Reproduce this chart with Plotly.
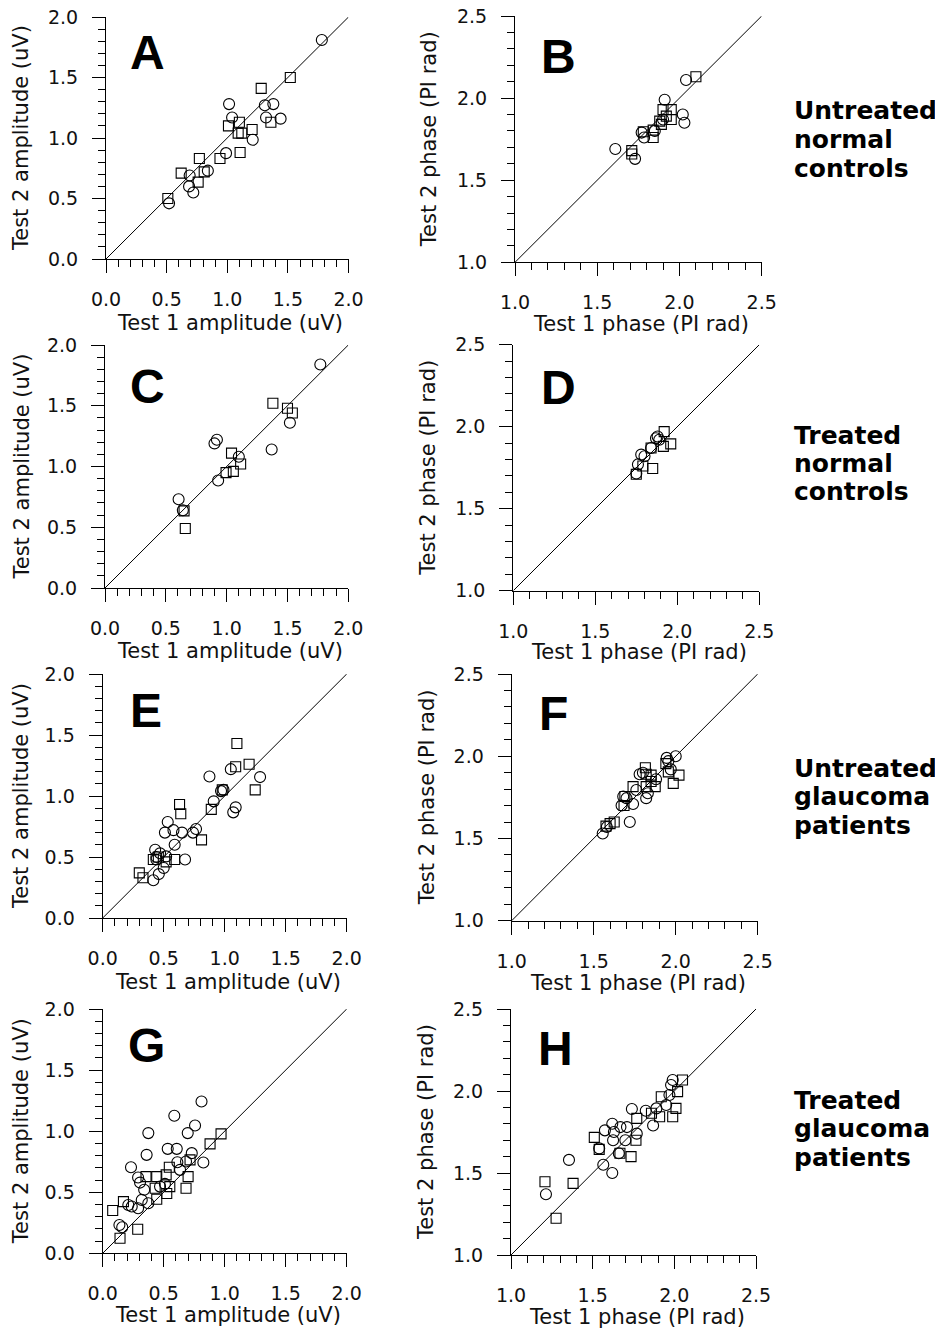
import plotly.graph_objects as go

PAGE_W, PAGE_H = 943, 1332
BODY_MARGIN = 8          # default page margin around the plot div
W, H = PAGE_W - BODY_MARGIN, PAGE_H - BODY_MARGIN
AMP_RANGE = [0.0, 2.0]
PHASE_RANGE = [1.0, 2.5]

# ---------------- data ----------------
A_circ_x = [1.78, 1.015, 1.31, 1.38, 1.04, 1.32, 1.44, 1.21, 0.99, 0.84, 0.69, 0.685, 0.72, 0.52]
A_circ_y = [1.81, 1.28, 1.27, 1.28, 1.17, 1.17, 1.16, 0.985, 0.875, 0.73, 0.69, 0.60, 0.55, 0.46]
A_sq_x = [1.52, 1.28, 1.01, 1.10, 1.09, 1.12, 1.205, 1.36, 1.106, 0.94, 0.77, 0.62, 0.81, 0.76, 0.51]
A_sq_y = [1.50, 1.41, 1.10, 1.13, 1.04, 1.04, 1.07, 1.13, 0.88, 0.83, 0.83, 0.71, 0.72, 0.635, 0.50]

B_circ_x = [1.61, 1.73, 2.04, 1.91, 2.02, 2.03, 1.785, 1.77, 1.90, 1.85]
B_circ_y = [1.69, 1.63, 2.11, 1.99, 1.90, 1.85, 1.76, 1.79, 1.87, 1.80]
B_sq_x = [2.10, 1.71, 1.71, 1.78, 1.84, 1.84, 1.88, 1.90, 1.95, 1.92, 1.95, 1.89]
B_sq_y = [2.13, 1.68, 1.66, 1.795, 1.805, 1.76, 1.86, 1.93, 1.93, 1.89, 1.87, 1.84]

C_circ_x = [1.77, 0.92, 0.90, 1.37, 1.52, 1.10, 0.93, 0.605, 0.64]
C_circ_y = [1.84, 1.22, 1.19, 1.14, 1.36, 1.08, 0.885, 0.73, 0.64]
C_sq_x = [1.38, 1.50, 1.54, 1.04, 1.115, 0.995, 1.055, 0.65, 0.66]
C_sq_y = [1.52, 1.48, 1.44, 1.11, 1.02, 0.95, 0.96, 0.635, 0.49]

D_circ_x = [1.75, 1.76, 1.78, 1.80, 1.84, 1.88, 1.89, 1.87]
D_circ_y = [1.715, 1.77, 1.83, 1.82, 1.87, 1.94, 1.92, 1.93]
D_sq_x = [1.85, 1.92, 1.96, 1.915, 1.84, 1.75, 1.79]
D_sq_y = [1.745, 1.97, 1.895, 1.88, 1.87, 1.71, 1.76]

E_circ_x = [0.875, 1.05, 1.29, 0.97, 0.99, 0.91, 1.09, 1.07, 0.533, 0.51, 0.58, 0.65, 0.74, 0.765,
            0.59, 0.43, 0.47, 0.52, 0.675, 0.44, 0.50, 0.46, 0.415, 0.44]
E_circ_y = [1.16, 1.22, 1.155, 1.04, 1.05, 0.956, 0.907, 0.866, 0.787, 0.70, 0.72, 0.70, 0.70, 0.73,
            0.60, 0.56, 0.53, 0.505, 0.48, 0.48, 0.41, 0.36, 0.31, 0.50]
E_sq_x = [1.10, 1.09, 1.20, 1.25, 0.98, 0.89, 0.63, 0.64, 0.81, 0.59, 0.415, 0.456, 0.52, 0.30, 0.33]
E_sq_y = [1.43, 1.24, 1.26, 1.05, 1.05, 0.89, 0.93, 0.855, 0.64, 0.48, 0.48, 0.50, 0.46, 0.37, 0.33]

F_circ_x = [2.00, 1.945, 1.955, 1.97, 1.78, 1.80, 1.88, 1.82, 1.83, 1.76, 1.68, 1.67, 1.74, 1.72,
            1.555, 1.58, 1.70]
F_circ_y = [2.00, 1.99, 1.97, 1.92, 1.89, 1.90, 1.86, 1.745, 1.775, 1.795, 1.755, 1.70, 1.71, 1.60,
            1.53, 1.57, 1.745]
F_sq_x = [2.02, 1.985, 1.955, 1.94, 1.815, 1.82, 1.85, 1.875, 1.82, 1.74, 1.69, 1.685, 1.625, 1.60,
          1.575, 1.85]
F_sq_y = [1.885, 1.835, 1.905, 1.955, 1.93, 1.89, 1.885, 1.815, 1.815, 1.815, 1.755, 1.70, 1.60, 1.59,
          1.575, 1.846]

G_circ_x = [0.81, 0.587, 0.757, 0.697, 0.374, 0.36, 0.533, 0.607, 0.73, 0.825, 0.232, 0.612, 0.634,
            0.683, 0.29, 0.306, 0.34, 0.47, 0.51, 0.21, 0.238, 0.29, 0.32, 0.374, 0.137, 0.16]
G_circ_y = [1.243, 1.126, 1.046, 0.984, 0.984, 0.806, 0.855, 0.855, 0.82, 0.743, 0.705, 0.746, 0.683,
            0.751, 0.62, 0.579, 0.52, 0.546, 0.568, 0.396, 0.383, 0.369, 0.437, 0.41, 0.232, 0.213]
G_sq_x = [0.97, 0.88, 0.716, 0.546, 0.355, 0.443, 0.52, 0.70, 0.683, 0.43, 0.525, 0.443, 0.17, 0.082,
          0.287, 0.142, 0.55]
G_sq_y = [0.978, 0.896, 0.765, 0.705, 0.628, 0.628, 0.642, 0.628, 0.533, 0.533, 0.49, 0.443, 0.423,
          0.35, 0.197, 0.123, 0.546]

H_circ_x = [1.99, 1.98, 1.97, 1.95, 1.74, 1.825, 1.87, 1.89, 1.62, 1.67, 1.71, 1.575, 1.63, 1.70,
            1.625, 1.54, 1.66, 1.77, 1.355, 1.565, 1.62, 1.214]
H_circ_y = [2.067, 2.037, 1.976, 1.915, 1.89, 1.88, 1.79, 1.894, 1.80, 1.78, 1.78, 1.76, 1.75, 1.70,
            1.70, 1.65, 1.62, 1.74, 1.58, 1.55, 1.50, 1.37]
H_sq_x = [2.05, 2.02, 2.01, 1.99, 1.92, 1.91, 1.77, 1.765, 1.735, 1.51, 1.54, 1.38, 1.208, 1.276,
          1.86, 1.667]
H_sq_y = [2.067, 1.996, 1.894, 1.843, 1.965, 1.843, 1.833, 1.70, 1.60, 1.717, 1.644, 1.437, 1.447,
          1.224, 1.864, 1.62]

AMP_X_TITLE = "Test 1 amplitude (uV)"
AMP_Y_TITLE = "Test 2 amplitude (uV)"
PH_X_TITLE = "Test 1 phase (PI rad)"
PH_Y_TITLE = "Test 2 phase (PI rad)"

ROW_LABELS = [["Untreated", "normal", "controls"],
              ["Treated", "normal", "controls"],
              ["Untreated", "glaucoma", "patients"],
              ["Treated", "glaucoma", "patients"]]

# ---------------- layout geometry (page pixels) ----------------
panels = [
    dict(letter="A", kind="amp", cx=A_circ_x, cy=A_circ_y, sx=A_sq_x, sy=A_sq_y,
         px=(106, 348.5), py=(259, 17), lab=(147, 52), tt=64, yt=21),
    dict(letter="B", kind="ph", cx=B_circ_x, cy=B_circ_y, sx=B_sq_x, sy=B_sq_y,
         px=(515, 761.7), py=(262.3, 16), lab=(558, 56), tt=62, yt=429),
    dict(letter="C", kind="amp", cx=C_circ_x, cy=C_circ_y, sx=C_sq_x, sy=C_sq_y,
         px=(105, 348.3), py=(588, 345), lab=(147, 386), tt=63, yt=21),
    dict(letter="D", kind="ph", cx=D_circ_x, cy=D_circ_y, sx=D_sq_x, sy=D_sq_y,
         px=(513.3, 759.3), py=(590.7, 344.7), lab=(558, 388), tt=61, yt=428),
    dict(letter="E", kind="amp", cx=E_circ_x, cy=E_circ_y, sx=E_sq_x, sy=E_sq_y,
         px=(102.7, 346.7), py=(918, 674), lab=(146, 710), tt=64, yt=21),
    dict(letter="F", kind="ph", cx=F_circ_x, cy=F_circ_y, sx=F_sq_x, sy=F_sq_y,
         px=(511.7, 757.7), py=(920.7, 674), lab=(553, 713), tt=62, yt=427),
    dict(letter="G", kind="amp", cx=G_circ_x, cy=G_circ_y, sx=G_sq_x, sy=G_sq_y,
         px=(102.7, 346.7), py=(1253.3, 1009), lab=(146, 1045), tt=62, yt=21),
    dict(letter="H", kind="ph", cx=H_circ_x, cy=H_circ_y, sx=H_sq_x, sy=H_sq_y,
         px=(511, 756), py=(1255, 1009), lab=(555, 1048), tt=62, yt=426),
]

row_label_baselines = [120, 444, 777, 1109]
ROW_LABEL_X = 792
ROW_LABEL_SIZE = 25
ROW_LABEL_PITCH = 28.5

def fx(p):
    return (p - BODY_MARGIN) / W

def fy(p):
    return 1 - (p - BODY_MARGIN) / H

TICK_FONT = dict(family="DejaVu Sans", size=19, color="#111")
TITLE_FONT = dict(family="DejaVu Sans", size=21, color="#111")

fig = go.Figure()
annotations = []
layout_axes = {}

for i, p in enumerate(panels, start=1):
    xa = "x" if i == 1 else f"x{i}"
    ya = "y" if i == 1 else f"y{i}"
    rng = AMP_RANGE if p["kind"] == "amp" else PHASE_RANGE

    fig.add_trace(go.Scatter(x=rng, y=rng, mode="lines", xaxis=xa, yaxis=ya,
                             line=dict(color="black", width=1), hoverinfo="skip",
                             showlegend=False))
    fig.add_trace(go.Scatter(x=p["sx"], y=p["sy"], mode="markers", xaxis=xa, yaxis=ya,
                             marker=dict(symbol="square-open", size=10,
                                         color="black", line=dict(width=1.1, color="black")),
                             showlegend=False, cliponaxis=False))
    fig.add_trace(go.Scatter(x=p["cx"], y=p["cy"], mode="markers", xaxis=xa, yaxis=ya,
                             marker=dict(symbol="circle-open", size=11,
                                         color="black", line=dict(width=1.1, color="black")),
                             showlegend=False, cliponaxis=False))

    common = dict(range=rng, showline=True, linecolor="black", linewidth=1.2,
                  ticks="outside", ticklen=13, tickwidth=1.2, tickcolor="black",
                  showgrid=False, zeroline=False, tickformat=".1f", automargin=False,
                  ticklabeloverflow="allow",
                  tick0=rng[0], dtick=0.5, tickfont=TICK_FONT, fixedrange=True,
                  minor=dict(ticks="outside", ticklen=7, tickwidth=1.1, tickcolor="black",
                             tick0=rng[0], dtick=0.1, showgrid=False))
    xkey = "xaxis" if i == 1 else f"xaxis{i}"
    ykey = "yaxis" if i == 1 else f"yaxis{i}"
    layout_axes[xkey] = dict(common, domain=[fx(p["px"][0]), fx(p["px"][1])], anchor=ya,
                             ticklabelstandoff=10)
    layout_axes[ykey] = dict(common, domain=[fy(p["py"][0]), fy(p["py"][1])], anchor=xa,
                             ticklabelstandoff=10)

    # axis titles
    xt = AMP_X_TITLE if p["kind"] == "amp" else PH_X_TITLE
    yt = AMP_Y_TITLE if p["kind"] == "amp" else PH_Y_TITLE
    xmid = (p["px"][0] + p["px"][1]) / 2
    ymid = (p["py"][0] + p["py"][1]) / 2
    annotations.append(dict(text=xt, x=fx(xmid + 3), y=fy(p["py"][0] + p["tt"]),
                            xref="paper", yref="paper", xanchor="center", yanchor="middle",
                            showarrow=False, font=TITLE_FONT))
    annotations.append(dict(text=yt, x=fx(p["yt"]), y=fy(ymid),
                            xref="paper", yref="paper", xanchor="center", yanchor="middle",
                            textangle=-90, showarrow=False, font=TITLE_FONT))
    # panel letter
    annotations.append(dict(text=f"<b>{p['letter']}</b>", x=fx(p["lab"][0]), y=fy(p["lab"][1]),
                            xref="paper", yref="paper", xanchor="center", yanchor="middle",
                            showarrow=False,
                            font=dict(family="Liberation Sans", size=48, color="black")))

for r, lines in enumerate(ROW_LABELS):
    for k, t in enumerate(lines):
        base = row_label_baselines[r] + k * ROW_LABEL_PITCH
        annotations.append(dict(text=f"<b>{t}</b>", x=fx(ROW_LABEL_X),
                                y=fy(base - 0.36 * ROW_LABEL_SIZE),
                                xref="paper", yref="paper", xanchor="left", yanchor="middle",
                                showarrow=False,
                                font=dict(family="DejaVu Sans", size=ROW_LABEL_SIZE, color="black")))

fig.update_layout(width=W, height=H, margin=dict(l=0, r=0, t=0, b=0, autoexpand=False),
                  paper_bgcolor="white", plot_bgcolor="white",
                  annotations=annotations, showlegend=False, **layout_axes)

fig.write_html("out.html")
